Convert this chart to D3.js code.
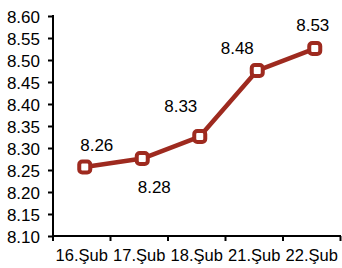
<!DOCTYPE html>
<html><head><meta charset="utf-8">
<script src="https://cdn.jsdelivr.net/npm/d3@7"></script>
<style>body{margin:0;background:#fff}svg{display:block}text{font-family:"Liberation Sans",Arial,sans-serif;fill:#000}</style>
</head><body><svg id="c" width="342" height="268"></svg>
<script>
const categories = ["16.Şub","17.Şub","18.Şub","21.Şub","22.Şub"];
const values = [8.257, 8.276, 8.326, 8.476, 8.526];
const labels = ["8.26","8.28","8.33","8.48","8.53"];
const yTicks = [8.10,8.15,8.20,8.25,8.30,8.35,8.40,8.45,8.50,8.55,8.60];
// label placement (dx, dy relative to point) — layout only
const labelPos = [[12,-16],[12,34],[-19,-25],[-20,-17],[-2,-18]];

const svg = d3.select("#c");
const color = "#9E2A1F";
const x = d3.scaleBand().domain(categories).range([53,340.5]);
const y = d3.scaleLinear().domain([8.10,8.60]).range([236,16]);
const px = c => x(c) + x.bandwidth()/2 + 3;

// Y axis
const ya = svg.append("g").attr("transform","translate(53,0)")
  .call(d3.axisLeft(y).tickValues(yTicks).tickFormat(d3.format(".2f")).tickSize(5).tickPadding(8));
ya.select(".domain").attr("stroke","#000").attr("stroke-width",2).attr("d","M0,15V241");
ya.selectAll(".tick line").attr("stroke","#000").attr("stroke-width",2);
ya.selectAll(".tick text").style("font-size","17px").attr("dy","0.36em");

// X axis
const xa = svg.append("g").attr("transform","translate(0,236)");
xa.append("line").attr("x1",53).attr("x2",341).attr("stroke","#000").attr("stroke-width",2);
const bounds = categories.map(c=>x(c)).concat([x(categories[categories.length-1])+x.bandwidth()]);
xa.selectAll("line.t").data(bounds.slice(1)).join("line").attr("class","t")
  .attr("x1",d=>d).attr("x2",d=>d).attr("y1",0).attr("y2",5).attr("stroke","#000").attr("stroke-width",2);
xa.selectAll("text").data(categories).join("text")
  .attr("x",d=>x(d)+x.bandwidth()/2).attr("y",25).attr("text-anchor","middle")
  .style("font-size","16.5px").text(d=>d);

// line
const pts = categories.map((c,i)=>({c, v:values[i], l:labels[i], o:labelPos[i]}));
svg.append("path").datum(pts)
  .attr("d", d3.line().x(d=>px(d.c)).y(d=>y(d.v)))
  .attr("fill","none").attr("stroke",color).attr("stroke-width",4.5).attr("stroke-linejoin","round");

svg.selectAll("rect.m").data(pts).join("rect").attr("class","m")
  .attr("x",d=>px(d.c)-5.5).attr("y",d=>y(d.v)-5.5).attr("width",11).attr("height",11)
  .attr("rx",3).attr("fill","#fff").attr("stroke",color).attr("stroke-width",4);

svg.selectAll("text.lb").data(pts).join("text").attr("class","lb")
  .attr("x",d=>px(d.c)+d.o[0]).attr("y",d=>y(d.v)+d.o[1]).attr("text-anchor","middle")
  .style("font-size","17px").text(d=>d.l);
</script></body></html>
